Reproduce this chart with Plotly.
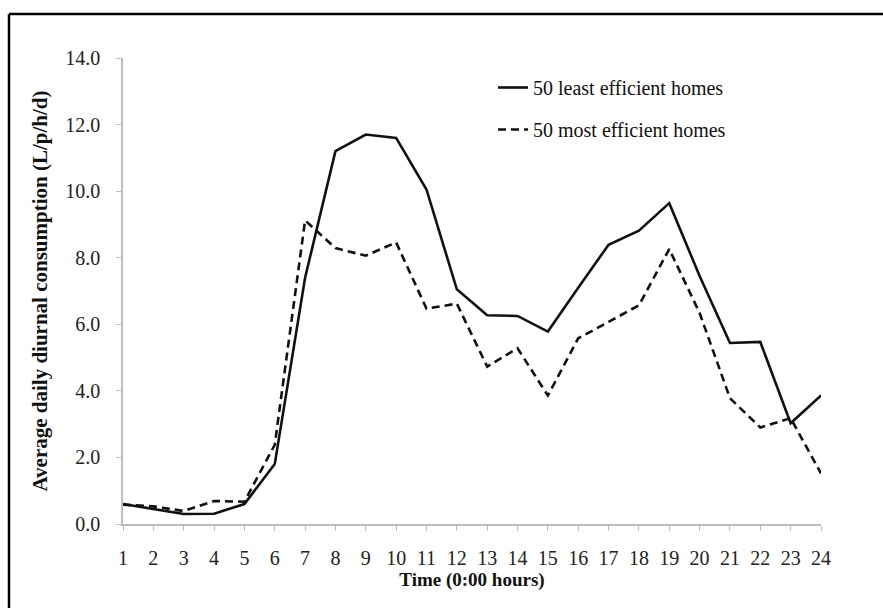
import plotly.graph_objects as go

# Hour of day (1..24)
hours = list(range(1, 25))

# Average daily diurnal consumption, L/p/h/d
least_efficient = [0.60, 0.45, 0.30, 0.31, 0.60, 1.80, 7.40, 11.20, 11.70, 11.60,
                   10.05, 7.05, 6.27, 6.25, 5.78, 7.10, 8.39, 8.81, 9.64, 7.45,
                   5.44, 5.47, 3.03, 3.86]
most_efficient = [0.58, 0.53, 0.39, 0.69, 0.67, 2.38, 9.12, 8.29, 8.06, 8.46,
                  6.47, 6.62, 4.73, 5.28, 3.86, 5.58, 6.07, 6.57, 8.26, 6.34,
                  3.78, 2.90, 3.18, 1.52]

series_names = ["50 least efficient homes", "50 most efficient homes"]
y_ticks = [0, 2, 4, 6, 8, 10, 12, 14]

FONT = "Liberation Serif"
W, H = 883, 608
L, R, T, B = 123, 62, 58, 84

fig = go.Figure()
fig.add_trace(go.Scatter(
    x=hours, y=least_efficient, mode="lines", name=series_names[0],
    line=dict(color="#111111", width=2.6), legendgroup="a",
))
fig.add_trace(go.Scatter(
    x=hours, y=most_efficient, mode="lines", name=series_names[1],
    line=dict(color="#111111", width=2.6, dash="8px,5px"), legendgroup="b",
))

axis_grey = "#bdbdbd"
fig.update_xaxes(
    range=[1, 24], tickmode="array", tickvals=hours,
    ticktext=[str(h) for h in hours],
    showline=True, linecolor=axis_grey, linewidth=1.5,
    ticks="outside", ticklen=5, tickcolor=axis_grey, tickwidth=1,
    showgrid=False, zeroline=False,
    tickfont=dict(family=FONT, size=20, color="#222222"),
    ticklabelstandoff=10,
    title=dict(text="Time (0:00 hours)", standoff=2,
               font=dict(family=FONT, size=19, color="#111111", weight="bold")),
)
fig.update_yaxes(
    range=[0, 14], tickmode="array", tickvals=y_ticks, tickformat=".1f",
    showline=True, linecolor=axis_grey, linewidth=1.5,
    ticks="outside", ticklen=5, tickcolor=axis_grey, tickwidth=1,
    showgrid=False, zeroline=False,
    tickfont=dict(family=FONT, size=20, color="#222222"),
    ticklabelstandoff=12,
    title=dict(text="Average daily diurnal consumption (L/p/h/d)", standoff=12,
               font=dict(family=FONT, size=21, color="#111111", weight="bold")),
)

pw, ph = W - L - R, H - T - B
# frame around the figure (top and left edges visible)
fig.add_shape(type="line", xref="paper", yref="paper",
              x0=(9 - L) / pw, x1=(W + 20 - L) / pw,
              y0=(H - B - 14) / ph, y1=(H - B - 14) / ph,
              line=dict(color="#000000", width=2.5))
fig.add_shape(type="line", xref="paper", yref="paper",
              x0=(9 - L) / pw, x1=(9 - L) / pw,
              y0=(H - B - 14) / ph, y1=-(B + 20) / ph,
              line=dict(color="#000000", width=2.5))

fig.update_layout(
    width=W, height=H,
    margin=dict(l=L, r=R, t=T, b=B, autoexpand=False),
    paper_bgcolor="white", plot_bgcolor="white",
    showlegend=True,
    legend=dict(x=(493 - L) / pw, y=(H - B - 68) / ph, xanchor="left", yanchor="top",
                bgcolor="rgba(0,0,0,0)", borderwidth=0,
                font=dict(family=FONT, size=20, color="#111111"),
                tracegroupgap=13, itemwidth=30),
)

fig.write_html("out.html")
